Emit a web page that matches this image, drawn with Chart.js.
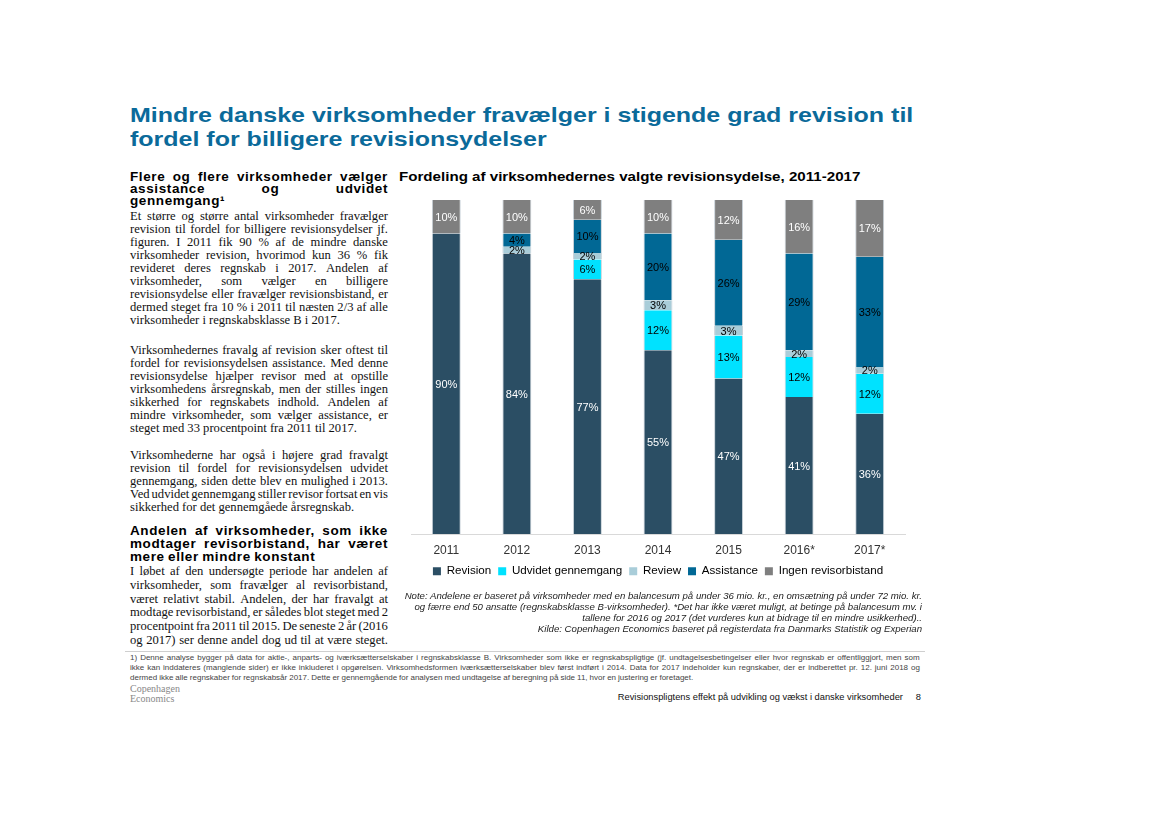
<!DOCTYPE html>
<html>
<head>
<meta charset="utf-8">
<script src="https://cdn.jsdelivr.net/npm/chart.js@4"></script>
<style>
  body { margin: 0; background: #fff; width: 1169px; height: 827px; position: relative; overflow: hidden;
         font-family: "Liberation Sans", Arial, sans-serif; color: #000; }
  .abs { position: absolute; }
  #title { left: 130px; top: 103px; font-size: 21px; font-weight: bold; color: #0b6a9a; line-height: 24px; white-space: nowrap;
           transform: scaleX(1.19); transform-origin: left top; }
  .head { font-weight: bold; font-size: 13.5px; line-height: 12px; width: 258px; letter-spacing: 0.6px; }
  .txt { font-family: "Liberation Serif", serif; font-size: 12.6px; line-height: 13px; width: 258px; color: #111; }
  .ln { display: flex; justify-content: space-between; white-space: nowrap; }
  .ln.last { justify-content: flex-start; gap: 0.25em; }
  #charttitle { left: 399px; top: 169px; font-size: 13.5px; font-weight: bold; white-space: nowrap;
                transform: scaleX(1.12); transform-origin: left top; }
  #wrap { left: 395px; top: 192px; width: 530px; height: 400px; }
  #note { right: 247px; top: 590px; font-size: 9.65px; font-style: italic; line-height: 11px; text-align: right; color: #222; white-space: nowrap; }
  #rule { left: 125px; top: 651px; width: 800px; height: 1px; background: #cfcfcf; }
  #foot { left: 130px; top: 653px; width: 790px; font-size: 8px; line-height: 10px; color: #444; }
  #logo { left: 130px; top: 684px; font-family: "Liberation Serif", serif; font-size: 10px; line-height: 10px; color: #888; }
  #pager { right: 248px; top: 692px; font-size: 9.3px; white-space: nowrap; color: #111; }
</style>
</head>
<body>
<div id="title" class="abs">Mindre danske virksomheder fravælger i stigende grad revision til<br>fordel for billigere revisionsydelser</div>

<div id="h1" class="abs head" style="left:130px;top:171px"></div>
<div id="p1" class="abs txt" style="left:130px;top:210px"></div>
<div id="p2" class="abs txt" style="left:130px;top:344px"></div>
<div id="p3" class="abs txt" style="left:130px;top:449px"></div>
<div id="h2" class="abs head" style="left:130px;top:524px;line-height:13px"></div>
<div id="p4" class="abs txt" style="left:130px;top:565px;line-height:13.8px"></div>

<div id="charttitle" class="abs">Fordeling af virksomhedernes valgte revisionsydelse, 2011-2017</div>
<div id="wrap" class="abs"><canvas id="chart"></canvas></div>

<div id="note" class="abs">Note: Andelene er baseret på virksomheder med en balancesum på under 36 mio. kr., en omsætning på under 72 mio. kr.<br>og færre end 50 ansatte (regnskabsklasse B-virksomheder). *Det har ikke været muligt, at betinge på balancesum mv. i<br>tallene for 2016 og 2017 (det vurderes kun at bidrage til en mindre usikkerhed)..<br>Kilde: Copenhagen Economics baseret på registerdata fra Danmarks Statistik og Experian</div>

<div id="rule" class="abs"></div>
<div id="foot" class="abs"></div>
<div id="logo" class="abs">Copenhagen<br>Economics</div>
<div id="pager" class="abs">Revisionspligtens effekt på udvikling og vækst i danske virksomheder &nbsp;&nbsp;&nbsp;&nbsp;8</div>

<script>
// chart data
const years = ["2011", "2012", "2013", "2014", "2015", "2016*", "2017*"];
const revision   = [90, 84, 77, 55, 47, 41, 36];
const udvidet    = [0, 0, 6, 12, 13, 12, 12];
const review     = [0, 2, 2, 3, 3, 2, 2];
const assistance = [0, 4, 10, 20, 26, 29, 33];
const ingen      = [10, 10, 6, 10, 12, 16, 17];

// text lines (left column, justified line by line)
const head1 = ["Flere og flere virksomheder vælger", "assistance og udvidet", "gennemgang¹"];
const para1 = [
  "Et større og større antal virksomheder fravælger",
  "revision til fordel for billigere revisionsydelser jf.",
  "figuren. I 2011 fik 90 % af de mindre danske",
  "virksomheder revision, hvorimod kun 36 % fik",
  "revideret deres regnskab i 2017. Andelen af",
  "virksomheder, som vælger en billigere",
  "revisionsydelse eller fravælger revisionsbistand, er",
  "dermed steget fra 10 % i 2011 til næsten 2/3 af alle",
  "virksomheder i regnskabsklasse B i 2017."
];
const para2 = [
  "Virksomhedernes fravalg af revision sker oftest til",
  "fordel for revisionsydelsen assistance. Med denne",
  "revisionsydelse hjælper revisor med at opstille",
  "virksomhedens årsregnskab, men der stilles ingen",
  "sikkerhed for regnskabets indhold. Andelen af",
  "mindre virksomheder, som vælger assistance, er",
  "steget med 33 procentpoint fra 2011 til 2017."
];
const para3 = [
  "Virksomhederne har også i højere grad fravalgt",
  "revision til fordel for revisionsydelsen udvidet",
  "gennemgang, siden dette blev en mulighed i 2013.",
  "Ved udvidet gennemgang stiller revisor fortsat en vis",
  "sikkerhed for det gennemgåede årsregnskab."
];
const head2 = ["Andelen af virksomheder, som ikke", "modtager revisorbistand, har været", "mere eller mindre konstant"];
const para4 = [
  "I løbet af den undersøgte periode har andelen af",
  "virksomheder, som fravælger al revisorbistand,",
  "været relativt stabil. Andelen, der har fravalgt at",
  "modtage revisorbistand, er således blot steget med 2",
  "procentpoint fra 2011 til 2015. De seneste 2 år (2016",
  "og 2017) ser denne andel dog ud til at være steget.+"
];
const footLines = [
  "1) Denne analyse bygger på data for aktie-, anparts- og iværksætterselskaber i regnskabsklasse B. Virksomheder som ikke er regnskabspligtige (jf. undtagelsesbetingelser eller hvor regnskab er offentliggjort, men som",
  "ikke kan inddateres (manglende sider) er ikke inkluderet i opgørelsen. Virksomhedsformen iværksætterselskaber blev først indført i 2014. Data for 2017 indeholder kun regnskaber, der er indberettet pr. 12. juni 2018 og",
  "dermed ikke alle regnskaber for regnskabsår 2017. Dette er gennemgående for analysen med undtagelse af beregning på side 11, hvor en justering er foretaget."
];

function fillLines(id, lines) {
  const box = document.getElementById(id);
  lines.forEach((line, i) => {
    let full = line.endsWith("+");   // "+" marks a last line that is still justified
    if (full) line = line.slice(0, -1);
    const row = document.createElement("div");
    row.className = "ln" + (i === lines.length - 1 && !full ? " last" : "");
    line.split(" ").forEach(w => {
      const s = document.createElement("span");
      s.textContent = w;
      row.appendChild(s);
    });
    box.appendChild(row);
  });
}
fillLines("h1", head1);
fillLines("p1", para1);
fillLines("p2", para2);
fillLines("p3", para3);
fillLines("h2", head2);
fillLines("p4", para4);
fillLines("foot", footLines);

// bars are drawn as 100% stacked, labels show the read values
const series = [
  { label: "Revision", values: revision, color: "#2b4e64", text: "#fff" },
  { label: "Udvidet gennemgang", values: udvidet, color: "#00e2ff", text: "#000" },
  { label: "Review", values: review, color: "#a9cdd9", text: "#000" },
  { label: "Assistance", values: assistance, color: "#016895", text: "#000" },
  { label: "Ingen revisorbistand", values: ingen, color: "#7f7f7f", text: "#fff" }
];
const totals = years.map((y, j) => series.reduce((s, d) => s + d.values[j], 0));

const valueLabels = {
  id: "valueLabels",
  afterDatasetsDraw(chart) {
    const ctx = chart.ctx;
    ctx.save();
    ctx.font = '11px "Liberation Sans", Arial';
    ctx.textAlign = "center";
    ctx.textBaseline = "middle";
    chart.data.datasets.forEach((ds, i) => {
      chart.getDatasetMeta(i).data.forEach((bar, j) => {
        const v = ds.raw[j];
        if (!v) return;
        ctx.fillStyle = ds.labelColor;
        ctx.fillText(v + "%", bar.x, (bar.y + bar.base) / 2 + 1);
      });
    });
    ctx.restore();
  }
};

new Chart(document.getElementById("chart"), {
  type: "bar",
  data: {
    labels: years,
    datasets: series.map(s => ({
      label: s.label,
      raw: s.values,
      labelColor: s.text,
      data: s.values.map((v, j) => v / totals[j] * 100),
      backgroundColor: s.color,
      borderColor: "#c9d2d9",
      borderWidth: { left: 1, right: 1, top: 0, bottom: 0 },
      borderSkipped: false,
      categoryPercentage: 1,
      barPercentage: 0.41
    }))
  },
  options: {
    responsive: true,
    maintainAspectRatio: false,
    animation: false,
    layout: { padding: { left: 16, right: 20, top: 8, bottom: 5 } },
    scales: {
      x: {
        stacked: true,
        grid: { display: false },
        border: { color: "#d9d9d9", width: 1 },
        ticks: { color: "#333", font: { size: 12, family: "Liberation Sans" }, padding: 1 }
      },
      y: { stacked: true, min: 0, max: 100, display: false }
    },
    plugins: {
      tooltip: { enabled: false },
      legend: {
        position: "bottom",
        labels: {
          boxWidth: 8, boxHeight: 8, padding: 7, color: "#333",
          font: { size: 11.6, family: "Liberation Sans" },
          generateLabels: chart => chart.data.datasets.map((ds, i) => ({
            text: ds.label, fillStyle: ds.backgroundColor, strokeStyle: ds.backgroundColor,
            lineWidth: 0, datasetIndex: i, hidden: false
          }))
        }
      }
    }
  },
  plugins: [valueLabels]
});
</script>
</body>
</html>
